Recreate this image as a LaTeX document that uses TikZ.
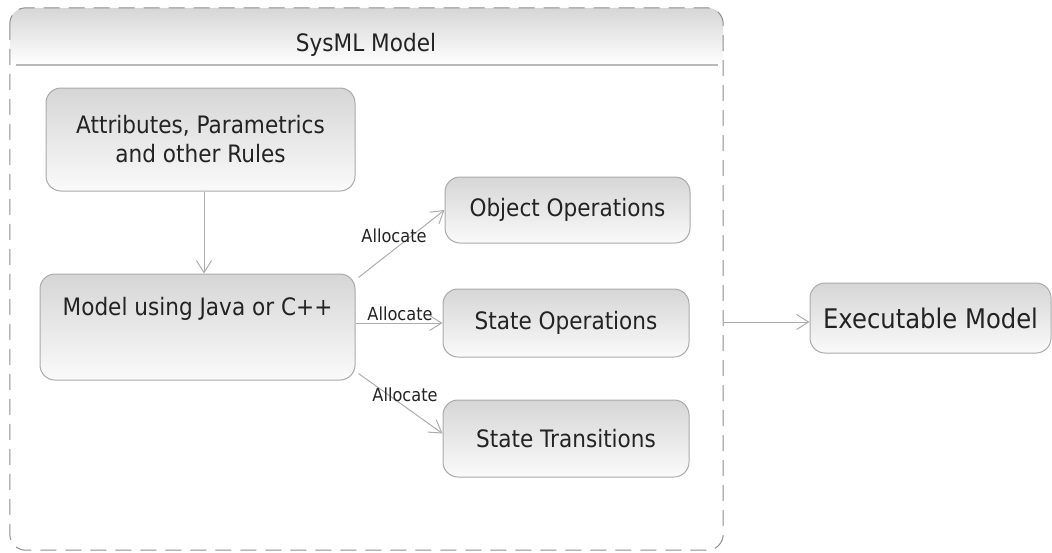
\documentclass[tikz,border=0pt]{standalone}
\usepackage{fontspec}
\setmainfont{DejaVu Sans}[FakeStretch=0.9]
\usetikzlibrary{arrows.meta}

\definecolor{boxline}{HTML}{AAAAAA}
\definecolor{shadetop}{HTML}{D6D6D6}
\definecolor{shadebot}{HTML}{FAFAFA}
\definecolor{wire}{HTML}{ADADAD}
\definecolor{frame}{HTML}{8E8E8E}
\definecolor{rule}{HTML}{B8B8B8}
\definecolor{ink}{HTML}{232323}

\begin{document}
\begin{tikzpicture}[x=1pt,y=-1pt,
  block/.style={draw=boxline, line width=1pt, rounded corners=15pt,
    top color=shadetop, bottom color=shadebot, text=ink,
    font=\fontsize{24}{29}\selectfont, align=center, inner sep=0pt},
  caption/.style={text=ink, font=\fontsize{24}{29}\selectfont, inner sep=0pt},
  flow/.style={draw=wire, line width=1pt, line join=round,
    -{Straight Barb[length=12pt,width=15pt,line width=1pt]}},
  tag/.style={text=ink, font=\fontsize{18}{20}\selectfont, inner sep=0pt}]

\useasboundingbox (0,0) rectangle (1052,552);

% SysML model frame with shaded header
\node[minimum width=713pt, minimum height=542pt, inner sep=0pt] (sys) at (366.5,279) {};
\coordinate (hl) at (16,65);
\coordinate (hr) at (718,65);
\begin{scope}
  \clip[rounded corners=16pt] (sys.north west) rectangle (sys.south east);
  \shade[top color=shadetop, bottom color=white] (sys.north west) rectangle (sys.east |- hr);
\end{scope}
\draw[rule, line width=1.2pt] (hl) -- (hr);
\draw[frame, line width=1pt, dash pattern=on 16pt off 9pt, rounded corners=16pt]
  (sys.north west) rectangle (sys.south east);
\node[caption] (title) at (366,45) {SysML Model};

% blocks
\node[block, minimum width=309pt, minimum height=103pt] (attr) at (200.5,139.5)
  {Attributes, Parametrics\\and other Rules};
\node[block, minimum width=315pt, minimum height=106pt] (model) at (197.5,327) {};
\node[caption] (modeltxt) at (197.5,309) {Model using Java or C++};
\node[block, minimum width=245pt, minimum height=66pt] (objop) at (567.5,210) {Object Operations};
\node[block, minimum width=246pt, minimum height=68pt] (stop) at (566,323) {State Operations};
\node[block, minimum width=246pt, minimum height=77pt] (sttr) at (566,438.5) {State Transitions};
\node[block, minimum width=241pt, minimum height=70pt, font=\fontsize{27}{32}\selectfont]
  (exec) at (930.5,318) {Executable Model};

% connectors
\path (attr.south) ++(3.5,0) coordinate (a1);
\draw[flow] (a1) -- (a1 |- model.north);

\coordinate (o1) at ([shift={(3,4)}]model.north east);
\draw[flow] (o1) -- (objop.west);
\node[tag] (lab1) at (394,236) {Allocate};

\draw[flow] (model.east |- stop.west) -- (stop.west);
\node[tag] (lab2) at (400,314) {Allocate};

\coordinate (o3) at ([shift={(3,-7)}]model.south east);
\coordinate (t3) at ([shift={(0,-5)}]sttr.west);
\draw[flow] (o3) -- (t3);
\node[tag] (lab3) at (405,395) {Allocate};

\coordinate (ein) at ([shift={(0,4)}]exec.west);
\draw[flow] (sys.east |- ein) -- (ein);
\end{tikzpicture}
\end{document}
